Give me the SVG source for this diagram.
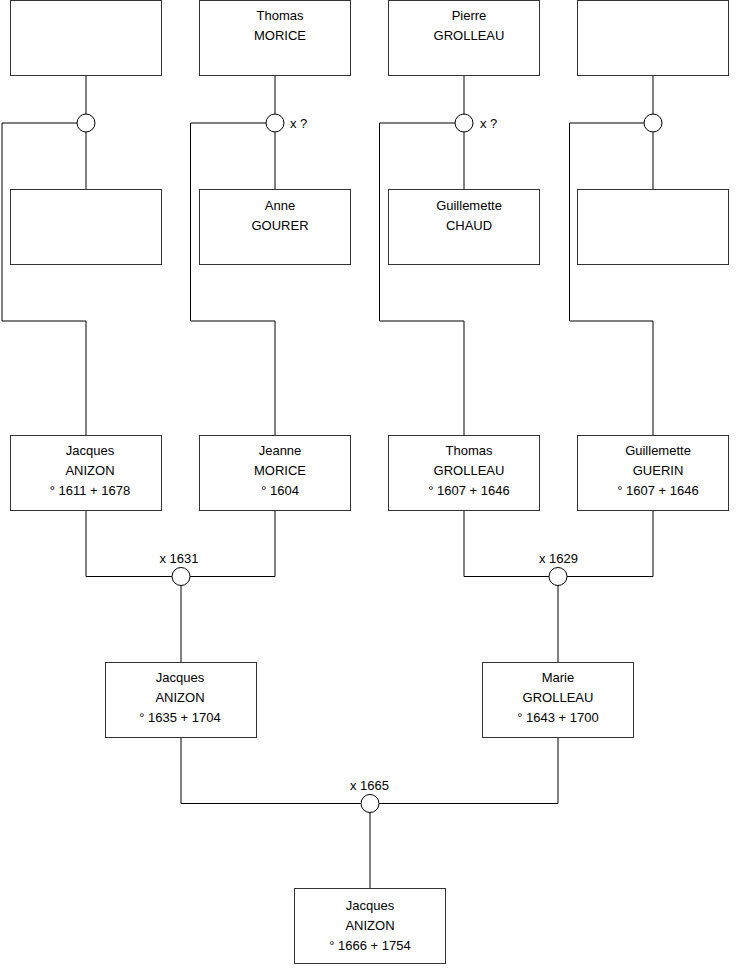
<svg xmlns="http://www.w3.org/2000/svg" width="740" height="975" viewBox="0 0 740 975">
<style>
.box{fill:#fff;stroke:#333;stroke-width:1}
.ln{fill:none;stroke:#000;stroke-width:1}
.ring{fill:#fff;stroke:#000;stroke-width:1}
text{font-family:"Liberation Sans",Arial,sans-serif;font-size:13px;fill:#000}
.c{text-anchor:middle}
</style>
<rect width="740" height="975" fill="#fff"/>
<g id="connectors">
<path class="ln" d="M86 75.5V114M86 132V189.5M77 123H2V321H86V435.5"/>
<path class="ln" d="M275 75.5V114M275 132V189.5M266 123H190.5V321H275V435.5"/>
<path class="ln" d="M464 75.5V114M464 132V189.5M455 123H379.5V321H464V435.5"/>
<path class="ln" d="M653 75.5V114M653 132V189.5M644 123H569.5V321H653V435.5"/>
<path class="ln" d="M86 510.5V576.5H172M190 576.5H275V510.5M181 585.5V662.5"/>
<path class="ln" d="M464 510.5V576.5H549M567 576.5H653V510.5M558 585.5V662.5"/>
<path class="ln" d="M181 737.5V803.5H361M379 803.5H558V737.5M370 812.5V888.5"/>
<circle class="ring" cx="86" cy="123" r="9"/>
<circle class="ring" cx="275" cy="123" r="9"/>
<circle class="ring" cx="464" cy="123" r="9"/>
<circle class="ring" cx="653" cy="123" r="9"/>
<circle class="ring" cx="181" cy="576.5" r="9"/>
<circle class="ring" cx="558" cy="576.5" r="9"/>
<circle class="ring" cx="370" cy="803.5" r="9"/>
<text x="290" y="128">x ?</text>
<text x="480" y="128">x ?</text>
<text class="c" x="179" y="562.5">x 1631</text>
<text class="c" x="558.5" y="562.5">x 1629</text>
<text class="c" x="369.5" y="789.5">x 1665</text>
</g>
<g id="n1"><rect class="box" x="10.5" y="0.5" width="151" height="75"/></g>
<g id="n2"><rect class="box" x="199.5" y="0.5" width="151" height="75"/>
<text class="c" x="280" y="19.5">Thomas</text><text class="c" x="280" y="39.5">MORICE</text></g>
<g id="n3"><rect class="box" x="388.5" y="0.5" width="151" height="75"/>
<text class="c" x="469" y="19.5">Pierre</text><text class="c" x="469" y="39.5">GROLLEAU</text></g>
<g id="n4"><rect class="box" x="577.5" y="0.5" width="151" height="75"/></g>
<g id="n5"><rect class="box" x="10.5" y="189.5" width="151" height="75"/></g>
<g id="n6"><rect class="box" x="199.5" y="189.5" width="151" height="75"/>
<text class="c" x="280" y="210">Anne</text><text class="c" x="280" y="230">GOURER</text></g>
<g id="n7"><rect class="box" x="388.5" y="189.5" width="151" height="75"/>
<text class="c" x="469" y="210">Guillemette</text><text class="c" x="469" y="230">CHAUD</text></g>
<g id="n8"><rect class="box" x="577.5" y="189.5" width="151" height="75"/></g>
<g id="n9"><rect class="box" x="10.5" y="435.5" width="151" height="75"/>
<text class="c" x="90" y="454.5">Jacques</text><text class="c" x="90" y="474.5">ANIZON</text><text class="c" x="90" y="494.5">° 1611 + 1678</text></g>
<g id="n10"><rect class="box" x="199.5" y="435.5" width="151" height="75"/>
<text class="c" x="280" y="454.5">Jeanne</text><text class="c" x="280" y="474.5">MORICE</text><text class="c" x="280" y="494.5">° 1604</text></g>
<g id="n11"><rect class="box" x="388.5" y="435.5" width="151" height="75"/>
<text class="c" x="469" y="454.5">Thomas</text><text class="c" x="469" y="474.5">GROLLEAU</text><text class="c" x="469" y="494.5">° 1607 + 1646</text></g>
<g id="n12"><rect class="box" x="577.5" y="435.5" width="151" height="75"/>
<text class="c" x="658" y="454.5">Guillemette</text><text class="c" x="658" y="474.5">GUERIN</text><text class="c" x="658" y="494.5">° 1607 + 1646</text></g>
<g id="n13"><rect class="box" x="105.5" y="662.5" width="151" height="75"/>
<text class="c" x="180" y="681.5">Jacques</text><text class="c" x="180" y="701.5">ANIZON</text><text class="c" x="180" y="721.5">° 1635 + 1704</text></g>
<g id="n14"><rect class="box" x="482.5" y="662.5" width="151" height="75"/>
<text class="c" x="558" y="681.5">Marie</text><text class="c" x="558" y="701.5">GROLLEAU</text><text class="c" x="558" y="721.5">° 1643 + 1700</text></g>
<g id="n15"><rect class="box" x="294.5" y="888.5" width="151" height="75"/>
<text class="c" x="370" y="909.5">Jacques</text><text class="c" x="370" y="929.5">ANIZON</text><text class="c" x="370" y="949.5">° 1666 + 1754</text></g>
</svg>
